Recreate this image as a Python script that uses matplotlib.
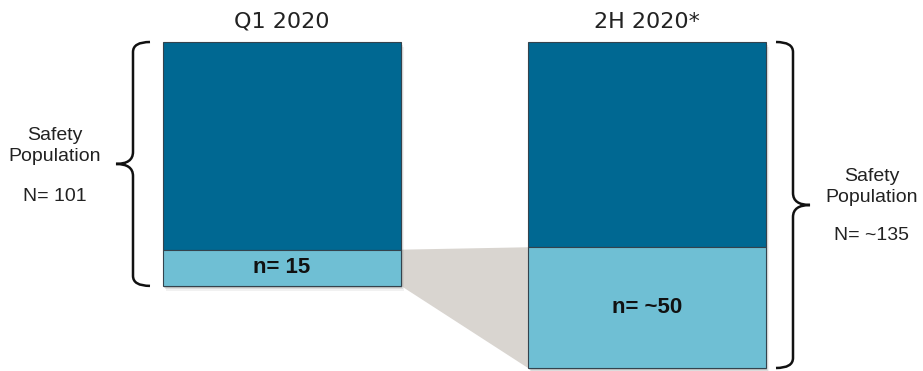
import matplotlib.pyplot as plt
from matplotlib.patches import Rectangle, Polygon, PathPatch
from matplotlib.path import Path

plt.rcParams['font.family'] = ['Liberation Sans', 'DejaVu Sans']

# Two study periods: full safety population and the subset of interest
periods = ['Q1 2020', '2H 2020*']
totals = [101, 135]
subsets = [15, 50]
total_labels = ['N= 101', 'N= ~135']
subset_labels = ['n= 15', 'n= ~50']

dark_blue = '#006892'
light_blue = '#6fbfd4'
edge = '#34434d'

W, H = 923, 371
top_px = 42
scale = 326 / 135          # pixels per patient
box_left = [163, 528]
box_w = 238


def ypx(p):
    # pixel row -> data units (patients counted down from the top of the boxes)
    return (p - top_px) / scale


fig = plt.figure(figsize=(W / 100, H / 100), dpi=100)
ax = fig.add_axes([0, 0, 1, 1])
ax.set_xlim(0, W)
ax.set_ylim(ypx(H), ypx(0))
ax.axis('off')

# grey funnel linking the two subsets
x0 = box_left[0] + box_w
x1 = box_left[1]
funnel = Polygon([(x0, totals[0] - subsets[0]), (x1, totals[1] - subsets[1]),
                  (x1, totals[1]), (x0, totals[0])],
                 closed=True, facecolor='#d9d5d0', edgecolor='none', zorder=1)
ax.add_patch(funnel)

for i in range(2):
    x = box_left[i]
    upper = totals[i] - subsets[i]
    # soft drop shadow
    for k, a in enumerate([0.18, 0.12, 0.07]):
        ax.add_patch(Rectangle((x + 1 + k, 0.8 + k * 0.6), box_w, totals[i],
                               facecolor='#444444', alpha=a, edgecolor='none', zorder=2))
    ax.add_patch(Rectangle((x, 0), box_w, upper, facecolor=dark_blue,
                           edgecolor=edge, linewidth=0.8, zorder=3))
    ax.add_patch(Rectangle((x, upper), box_w, subsets[i], facecolor=light_blue,
                           edgecolor=edge, linewidth=0.8, zorder=3))
    ax.text(x + box_w / 2, ypx(22), periods[i], ha='center', va='center',
            fontsize=16, family='DejaVu Sans', color='#222222')
    ax.text(x + box_w / 2, upper + subsets[i] / 2, subset_labels[i],
            ha='center', va='center', fontsize=16, fontweight='bold',
            color='#111111', zorder=4)


def brace(x_line, x_hook, x_tip, y0, y1):
    # curly brace drawn from y0 to y1 with its point at x_tip
    ym = (y0 + y1) / 2
    r = ypx(top_px + 10)
    d = ypx(top_px + 12)
    verts = [(x_hook, y0), (x_line, y0), (x_line, y0 + r),
             (x_line, ym - d), (x_line, ym), (x_tip, ym),
             (x_line, ym), (x_line, ym + d),
             (x_line, y1 - r), (x_line, y1), (x_hook, y1)]
    codes = [Path.MOVETO, Path.CURVE3, Path.CURVE3,
             Path.LINETO, Path.CURVE3, Path.CURVE3,
             Path.CURVE3, Path.CURVE3,
             Path.LINETO, Path.CURVE3, Path.CURVE3]
    ax.add_patch(PathPatch(Path(verts, codes), facecolor='none',
                           edgecolor='#111111', linewidth=1.8, zorder=4))


brace(133, 150, 116, 0, totals[0])
brace(793, 776, 810, 0, totals[1])

ax.text(55, ypx(146), 'Safety\nPopulation', ha='center', va='center',
        fontsize=14, linespacing=1.3, color='#222222')
ax.text(55, ypx(196), total_labels[0], ha='center', va='center',
        fontsize=14, color='#222222')
ax.text(872, ypx(187), 'Safety\nPopulation', ha='center', va='center',
        fontsize=14, linespacing=1.3, color='#222222')
ax.text(872, ypx(235), total_labels[1], ha='center', va='center',
        fontsize=14, color='#222222')

fig.savefig('out.png', dpi=100, facecolor='white')
